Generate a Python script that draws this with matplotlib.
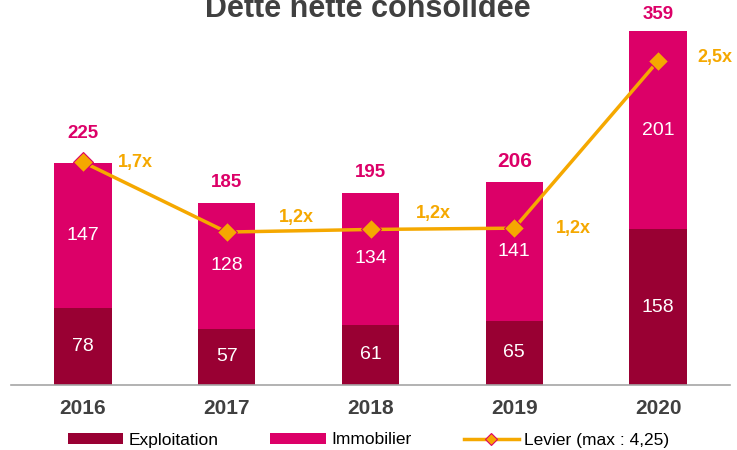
import matplotlib.pyplot as plt
import numpy as np

plt.rcParams['font.family'] = ['Liberation Sans', 'DejaVu Sans']

years = ['2016', '2017', '2018', '2019', '2020']
exploitation = [78, 57, 61, 65, 158]
immobilier = [147, 128, 134, 141, 201]
totals = [225, 185, 195, 206, 359]
levier = [1.72, 1.18, 1.20, 1.21, 2.50]
levier_labels = ['1,7x', '1,2x', '1,2x', '1,2x', '2,5x']

C_EXPL = '#990033'
C_IMMO = '#DC0068'
C_LEV = '#F5A800'
C_TXT = '#404040'

fig = plt.figure(figsize=(7.37, 4.5), dpi=100)
ax = fig.add_axes([11 / 737, 65 / 450, 719 / 737, 365 / 450])
x = np.arange(len(years))

ax.bar(x, exploitation, width=0.4, color=C_EXPL, label='Exploitation', zorder=2)
ax.bar(x, immobilier, width=0.4, bottom=exploitation, color=C_IMMO, label='Immobilier', zorder=2)

# valeurs dans les barres
for i in range(len(years)):
    ax.text(x[i], exploitation[i] / 2, str(exploitation[i]), ha='center', va='center',
            color='white', fontsize=14)
    ax.text(x[i], exploitation[i] + immobilier[i] / 2, str(immobilier[i]), ha='center',
            va='center', color='white', fontsize=14)

# totaux au dessus
tot_off = [30, 20, 20, 21, 17]
tot_size = [13.5, 13.5, 13.5, 15, 13.5]
for i in range(len(years)):
    ax.annotate(str(totals[i]), (x[i], totals[i]), xytext=(0, tot_off[i]),
                textcoords='offset pixels', ha='center', va='center',
                color=C_IMMO, fontsize=tot_size[i], fontweight='bold')

ax.set_xlim(-0.5, 4.5)
ax.set_ylim(0, 370.6)
for s in ['top', 'right', 'left']:
    ax.spines[s].set_visible(False)
ax.spines['bottom'].set_color('#A6A6A6')
ax.spines['bottom'].set_linewidth(1.2)
ax.set_yticks([])
ax.set_xticks(x)
ax.set_xticklabels(years, fontsize=15, fontweight='bold', color=C_TXT)
ax.tick_params(axis='x', length=0, pad=10)

ax2 = ax.twinx()
ax2.set_ylim(0, 2.816)
ax2.set_yticks([])
for s in ax2.spines.values():
    s.set_visible(False)
ax2.plot(x, levier, color=C_LEV, lw=2.5, marker='D', ms=10, mfc=C_LEV, mec=C_IMMO,
         mew=0.8, label='Levier (max : 4,25)', zorder=3)

lev_off = [(52, 0), (70, 15), (63, 16), (59, 0), (57, 3)]
for i in range(len(years)):
    ax2.annotate(levier_labels[i], (x[i], levier[i]), xytext=lev_off[i],
                 textcoords='offset pixels', ha='center', va='center',
                 color=C_LEV, fontsize=13, fontweight='bold')

fig.text(368 / 737, 433 / 450, 'Dette nette consolidée', ha='center', va='baseline',
         fontsize=22, fontweight='bold', color=C_TXT)

h1, l1 = ax.get_legend_handles_labels()
h2, l2 = ax2.get_legend_handles_labels()
fig.legend(h1 + h2, l1 + l2, loc='center', bbox_to_anchor=(0.5, 10 / 450), ncol=3,
           frameon=False, fontsize=12.5, handlelength=3.2, handleheight=0.6,
           columnspacing=3.0, handletextpad=0.3, markerscale=0.6)

fig.savefig('out.png', dpi=100)
